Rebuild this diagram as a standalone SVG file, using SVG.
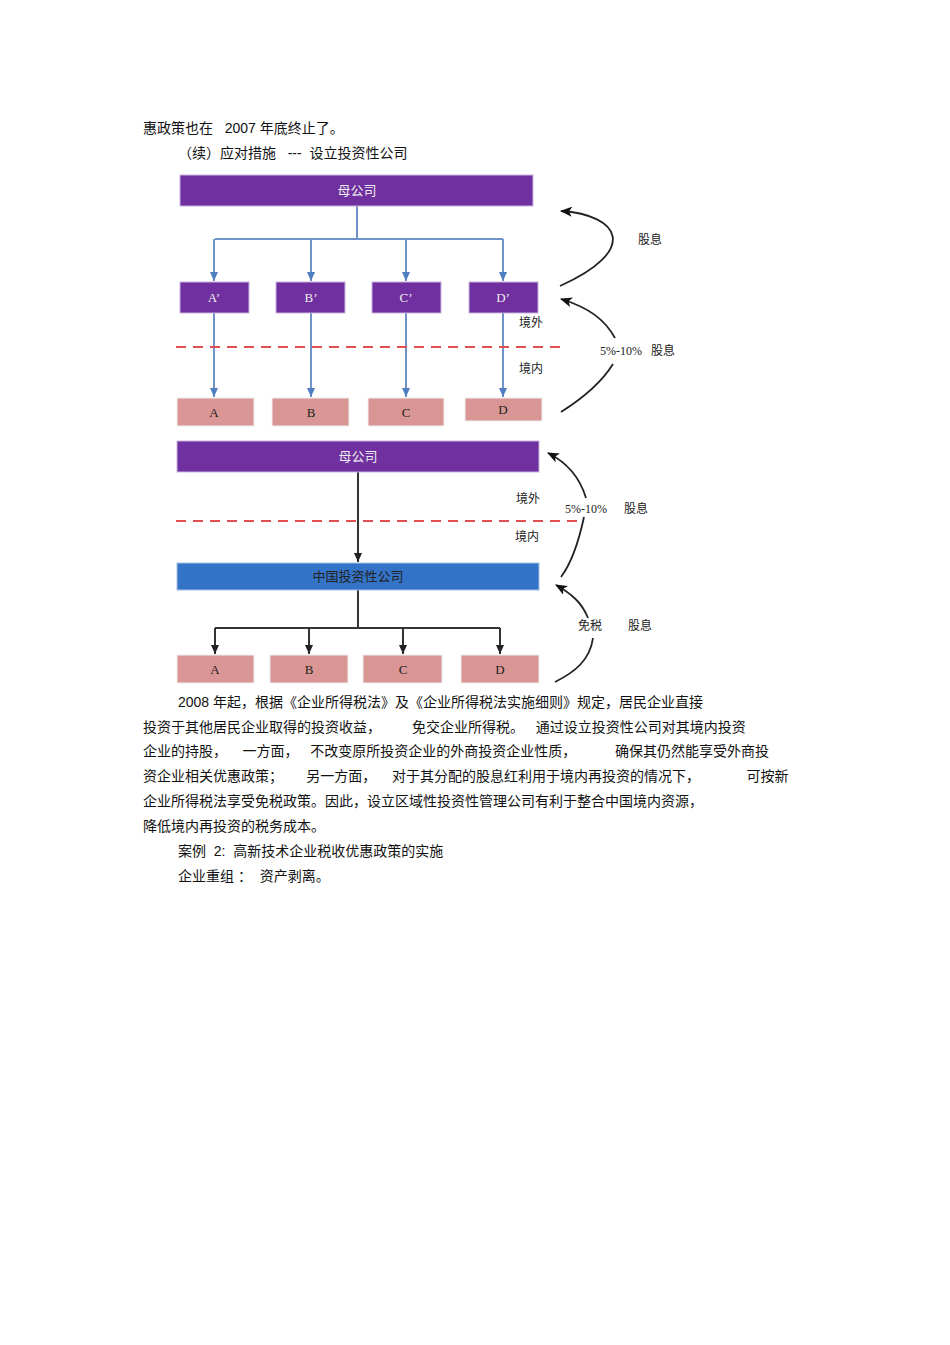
<svg xmlns="http://www.w3.org/2000/svg" width="950" height="1345" viewBox="0 0 950 1345">
<defs>
<style>
.t{font-family:"Liberation Sans","Noto Sans CJK SC",sans-serif;font-size:14px;fill:#111;white-space:pre}
.s{font-family:"Liberation Serif","Noto Sans CJK SC",serif;font-size:12px;fill:#222}
.w{font-family:"Liberation Serif","Noto Sans CJK SC",serif;font-size:13px;fill:#eee}
.k{font-family:"Liberation Serif","Noto Sans CJK SC",serif;font-size:13px;fill:#222}
.p{fill:#7030a0;stroke:#c9b3dc;stroke-width:1}
.r{fill:#d99694;stroke:#eee;stroke-width:1}
.bl{fill:none;stroke:#6f93c8;stroke-width:2}
.bk{fill:none;stroke:#333;stroke-width:2}
.cv{fill:none;stroke:#222;stroke-width:1.8}
.dash{stroke:#e05050;stroke-width:2;stroke-dasharray:10,7}
</style>
<marker id="ab" markerWidth="9" markerHeight="8" refX="9" refY="4" orient="auto" markerUnits="userSpaceOnUse" viewBox="0 0 9 8"><path d="M0,0 L9,4 L0,8z" fill="#4f7fc0"/></marker>
<marker id="ak" markerWidth="9" markerHeight="8" refX="9" refY="4" orient="auto" markerUnits="userSpaceOnUse" viewBox="0 0 9 8"><path d="M0,0 L9,4 L0,8z" fill="#222"/></marker>
<marker id="ac" markerWidth="12" markerHeight="10" refX="11" refY="5" orient="auto" markerUnits="userSpaceOnUse" viewBox="0 0 12 10"><path d="M0,0 L12,5 L0,10 L3,5z" fill="#111"/></marker>
</defs>
<rect width="950" height="1345" fill="#fff"/>
<text class="t" x="143" y="133" xml:space="preserve">惠政策也在   2007 年底终止了。</text>
<text class="t" x="178" y="158" xml:space="preserve">（续）应对措施   ---  设立投资性公司</text>

<g id="connectors">
<path class="bl" d="M357,206 V239 M215,239 H503"/>
<path class="bl" d="M214,239 V281" marker-end="url(#ab)"/>
<path class="bl" d="M311,239 V281" marker-end="url(#ab)"/>
<path class="bl" d="M406,239 V281" marker-end="url(#ab)"/>
<path class="bl" d="M503,239 V281" marker-end="url(#ab)"/>
<path class="bl" d="M214,313 V397" marker-end="url(#ab)"/>
<path class="bl" d="M311,313 V397" marker-end="url(#ab)"/>
<path class="bl" d="M406,313 V397" marker-end="url(#ab)"/>
<path class="bl" d="M503,313 V397" marker-end="url(#ab)"/>
<line class="dash" x1="176" y1="347" x2="561" y2="347"/>
<path class="cv" d="M560,286 C640,250 620,215 561,211" marker-end="url(#ac)"/>
<path class="cv" d="M615,338 C605,320 590,308 561,299" marker-end="url(#ac)"/>
<path class="cv" d="M613,364 C600,385 580,400 561,412"/>
<path class="bk" d="M358,472 V562" marker-end="url(#ak)"/>
<line class="dash" x1="176" y1="521" x2="580" y2="521"/>
<path class="bk" d="M358,590 V628 M215,628 H500"/>
<path class="bk" d="M215,628 V654" marker-end="url(#ak)"/>
<path class="bk" d="M309,628 V654" marker-end="url(#ak)"/>
<path class="bk" d="M403,628 V654" marker-end="url(#ak)"/>
<path class="bk" d="M500,628 V654" marker-end="url(#ak)"/>
<path class="cv" d="M586,498 C580,478 568,463 548,453" marker-end="url(#ac)"/>
<path class="cv" d="M584,517 C578,545 570,565 561,577"/>
<path class="cv" d="M588,618 C582,603 572,594 556,585" marker-end="url(#ac)"/>
<path class="cv" d="M593,638 C590,660 575,672 555,682"/>
</g>

<g id="top-parent"><rect class="p" x="180" y="175" width="353" height="31"/><text class="w" x="357" y="195" text-anchor="middle">母公司</text></g>
<g id="Ap"><rect class="p" x="180" y="282" width="69" height="31"/><text class="w" x="214" y="302" text-anchor="middle">A’</text></g>
<g id="Bp"><rect class="p" x="276" y="282" width="69" height="31"/><text class="w" x="311" y="302" text-anchor="middle">B’</text></g>
<g id="Cp"><rect class="p" x="372" y="282" width="69" height="31"/><text class="w" x="406" y="302" text-anchor="middle">C’</text></g>
<g id="Dp"><rect class="p" x="469" y="282" width="69" height="31"/><text class="w" x="503" y="302" text-anchor="middle">D’</text></g>
<g id="A1"><rect class="r" x="177" y="398" width="77" height="28"/><text class="k" x="214" y="417" text-anchor="middle">A</text></g>
<g id="B1"><rect class="r" x="272" y="398" width="77" height="28"/><text class="k" x="311" y="417" text-anchor="middle">B</text></g>
<g id="C1"><rect class="r" x="368" y="398" width="76" height="28"/><text class="k" x="406" y="417" text-anchor="middle">C</text></g>
<g id="D1"><rect class="r" x="465" y="398" width="77" height="23"/><text class="k" x="503" y="414" text-anchor="middle">D</text></g>
<g id="labels1">
<text class="s" x="650" y="244" text-anchor="middle">股息</text>
<text class="s" x="531" y="327" text-anchor="middle">境外</text>
<text class="s" x="531" y="373" text-anchor="middle">境内</text>
<text class="s" x="621" y="355" text-anchor="middle" font-size="10">5%-10%</text>
<text class="s" x="663" y="355" text-anchor="middle">股息</text>
</g>

<g id="parent2"><rect class="p" x="177" y="441" width="362" height="31"/><text class="w" x="358" y="461" text-anchor="middle">母公司</text></g>
<g id="invest"><rect x="177" y="563" width="362" height="27" fill="#3474c8" stroke="#a9c0e3"/><text class="k" x="358" y="581" text-anchor="middle" fill="#1a3060">中国投资性公司</text></g>
<g id="A2"><rect class="r" x="177" y="655" width="77" height="28"/><text class="k" x="215" y="674" text-anchor="middle">A</text></g>
<g id="B2"><rect class="r" x="270" y="655" width="78" height="28"/><text class="k" x="309" y="674" text-anchor="middle">B</text></g>
<g id="C2"><rect class="r" x="363" y="655" width="79" height="28"/><text class="k" x="403" y="674" text-anchor="middle">C</text></g>
<g id="D2"><rect class="r" x="461" y="655" width="78" height="28"/><text class="k" x="500" y="674" text-anchor="middle">D</text></g>
<g id="labels2">
<text class="s" x="528" y="503" text-anchor="middle">境外</text>
<text class="s" x="527" y="541" text-anchor="middle">境内</text>
<text class="s" x="586" y="513" text-anchor="middle" font-size="10">5%-10%</text>
<text class="s" x="636" y="513" text-anchor="middle">股息</text>
<text class="s" x="590" y="630" text-anchor="middle">免税</text>
<text class="s" x="640" y="630" text-anchor="middle">股息</text>
</g>

<text class="t" x="178" y="707" xml:space="preserve">2008 年起，根据《企业所得税法》及《企业所得税法实施细则》规定，居民企业直接</text>
<text class="t" x="143" y="732" xml:space="preserve">投资于其他居民企业取得的投资收益，        免交企业所得税。   通过设立投资性公司对其境内投资</text>
<text class="t" x="143" y="756" xml:space="preserve">企业的持股，    一方面，   不改变原所投资企业的外商投资企业性质，          确保其仍然能享受外商投</text>
<text class="t" x="143" y="781" xml:space="preserve">资企业相关优惠政策；      另一方面，    对于其分配的股息红利用于境内再投资的情况下，            可按新</text>
<text class="t" x="143" y="806" xml:space="preserve">企业所得税法享受免税政策。因此，设立区域性投资性管理公司有利于整合中国境内资源，</text>
<text class="t" x="143" y="831" xml:space="preserve">降低境内再投资的税务成本。</text>
<text class="t" x="178" y="856" xml:space="preserve">案例  2:  高新技术企业税收优惠政策的实施</text>
<text class="t" x="178" y="881" xml:space="preserve">企业重组 ：  资产剥离。</text>
</svg>
